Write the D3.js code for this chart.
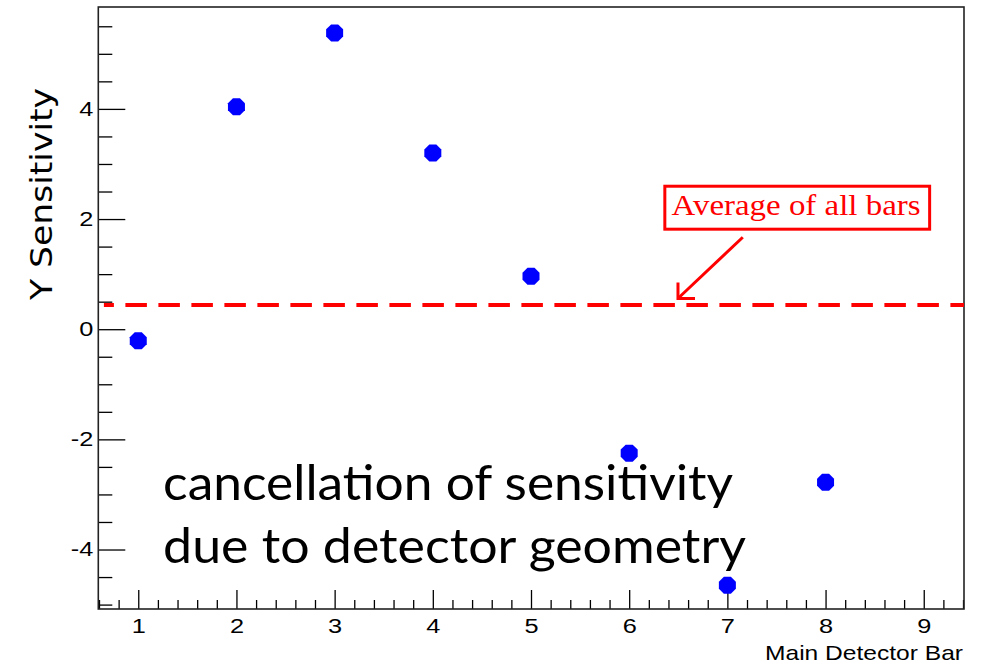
<!DOCTYPE html>
<html>
<head>
<meta charset="utf-8">
<script src="https://cdn.jsdelivr.net/npm/d3@7"></script>
<style>
  html, body { margin: 0; padding: 0; background: #fff; }
  svg { display: block; }
</style>
</head>
<body>
<svg id="chart" width="986" height="664"></svg>
<script>
// Per-bar Y sensitivity of the main detector bars
const bars = [1, 2, 3, 4, 5, 6, 7, 8];
const sensitivity = [-0.21, 4.04, 5.38, 3.20, 0.96, -2.25, -4.65, -2.78];
const averageValue = 0.44;

const xMajorTicks = [1, 2, 3, 4, 5, 6, 7, 8, 9];
const yMajorTicks = [-4, -2, 0, 2, 4];

const xTitle = "Main Detector Bar";
const yTitle = "Y Sensitivity";
const calloutText = "Average of all bars";
const noteLines = ["cancellation of sensitivity", "due to detector geometry"];

const svg = d3.select("#chart");
const frame = { left: 98.3, right: 964, top: 7, bottom: 609 };

const x = d3.scaleLinear().domain([0.593, 9.41]).range([frame.left, frame.right]);
const y = d3.scaleLinear().domain([-5.08, 5.85]).range([frame.bottom, frame.top]);

svg.append("rect").attr("width", 986).attr("height", 664).attr("fill", "#fff");

// minor ticks
const xMinor = d3.range(0.6, 9.41, 0.2).map(v => +v.toFixed(1)).filter(v => Math.abs(v - Math.round(v)) > 1e-6);
const yMinor = d3.range(-5, 5.6, 0.5).filter(v => !yMajorTicks.includes(v));

const gx = svg.append("g").attr("transform", `translate(0,${frame.bottom})`);
gx.append("g").call(d3.axisBottom(x).tickValues(xMinor).tickSize(-9).tickFormat(""));
gx.append("g").call(d3.axisBottom(x).tickValues(xMajorTicks).tickSize(-19).tickPadding(10)
  .tickFormat(d => String(d)));

const gy = svg.append("g").attr("transform", `translate(${frame.left},0)`);
gy.append("g").call(d3.axisLeft(y).tickValues(yMinor).tickSize(-14).tickFormat(""));
gy.append("g").call(d3.axisLeft(y).tickValues(yMajorTicks).tickSize(-27).tickPadding(5)
  .tickFormat(d => String(d)));

svg.selectAll(".domain").remove();
svg.selectAll(".tick line").attr("stroke", "#000").attr("stroke-width", 1.3);

const labelScale = 1.3;
gx.selectAll(".tick text")
  .attr("font-family", "Liberation Sans, Arial, sans-serif")
  .attr("font-size", 19.5).attr("fill", "#000")
  .attr("transform", `scale(${labelScale},1)`);
gy.selectAll(".tick text")
  .attr("font-family", "Liberation Sans, Arial, sans-serif")
  .attr("font-size", 19.5).attr("fill", "#000")
  .attr("x", -5 / labelScale)
  .attr("transform", `scale(${labelScale},1)`);

// plot frame
svg.append("rect")
  .attr("x", frame.left).attr("y", frame.top)
  .attr("width", frame.right - frame.left).attr("height", frame.bottom - frame.top)
  .attr("fill", "none").attr("stroke", "#222").attr("stroke-width", 1.6);

// average line
svg.append("line")
  .attr("x1", x(0.65)).attr("x2", frame.right)
  .attr("y1", y(averageValue)).attr("y2", y(averageValue))
  .attr("stroke", "#ff0000").attr("stroke-width", 4)
  .attr("stroke-dasharray", "21.5 11.5").attr("stroke-dashoffset", 11.5);

// data markers (octagons)
const octagon = r => {
  const pts = d3.range(8).map(i => {
    const a = Math.PI / 8 + i * Math.PI / 4;
    return [r * Math.cos(a), r * Math.sin(a)];
  });
  return "M" + pts.map(p => p.join(",")).join("L") + "Z";
};
svg.append("g").selectAll("path")
  .data(bars.map((b, i) => ({ bar: b, value: sensitivity[i] })))
  .join("path")
  .attr("d", octagon(9.2))
  .attr("transform", d => `translate(${x(d.bar)},${y(d.value)})`)
  .attr("fill", "#0000ff");

// callout box
const box = { x0: 6.363, x1: 9.06, y0: 2.596, y1: 1.816 };
svg.append("rect")
  .attr("x", x(box.x0)).attr("y", y(box.y0))
  .attr("width", x(box.x1) - x(box.x0)).attr("height", y(box.y1) - y(box.y0))
  .attr("fill", "#fff").attr("stroke", "#ff0000").attr("stroke-width", 3);
svg.append("text")
  .attr("x", x(6.432)).attr("y", y(2.07))
  .attr("font-family", "Liberation Serif, Times New Roman, serif")
  .attr("font-size", 30).attr("fill", "#ff0000")
  .attr("textLength", 249).attr("lengthAdjust", "spacingAndGlyphs")
  .text(calloutText);

// arrow from callout to the line
const arrowFrom = [7.157, 1.67], arrowTip = [6.497, 0.557];
const tx = x(arrowTip[0]), ty = y(arrowTip[1]);
svg.append("line")
  .attr("x1", x(arrowFrom[0])).attr("y1", y(arrowFrom[1]))
  .attr("x2", tx + 1).attr("y2", ty - 1)
  .attr("stroke", "#ff0000").attr("stroke-width", 3);
svg.append("path")
  .attr("d", `M${tx + 17},${ty} L${tx},${ty} L${tx},${ty - 16}`)
  .attr("fill", "none").attr("stroke", "#ff0000").attr("stroke-width", 3)
  .attr("stroke-linejoin", "miter");

// axis titles
svg.append("text")
  .attr("x", 765).attr("y", 660)
  .attr("font-family", "Liberation Sans, Arial, sans-serif")
  .attr("font-size", 21).attr("fill", "#000")
  .attr("textLength", 198).attr("lengthAdjust", "spacingAndGlyphs")
  .text(xTitle);
svg.append("text")
  .attr("transform", "translate(52,300) rotate(-90)")
  .attr("font-family", "DejaVu Sans, Verdana, sans-serif")
  .attr("font-size", 30).attr("fill", "#000")
  .attr("textLength", 212).attr("lengthAdjust", "spacingAndGlyphs")
  .text(yTitle);

// note text
const noteLayout = [
  { x: 1.253, y: -3.10, len: 570 },
  { x: 1.253, y: -4.245, len: 583 }
];
svg.append("g").selectAll("text")
  .data(noteLines)
  .join("text")
  .attr("x", (d, i) => x(noteLayout[i].x))
  .attr("y", (d, i) => y(noteLayout[i].y))
  .attr("textLength", (d, i) => noteLayout[i].len)
  .attr("lengthAdjust", "spacingAndGlyphs")
  .attr("font-family", "Lato, Open Sans, sans-serif")
  .attr("font-size", 49).attr("fill", "#000")
  .text(d => d);
</script>
</body>
</html>
